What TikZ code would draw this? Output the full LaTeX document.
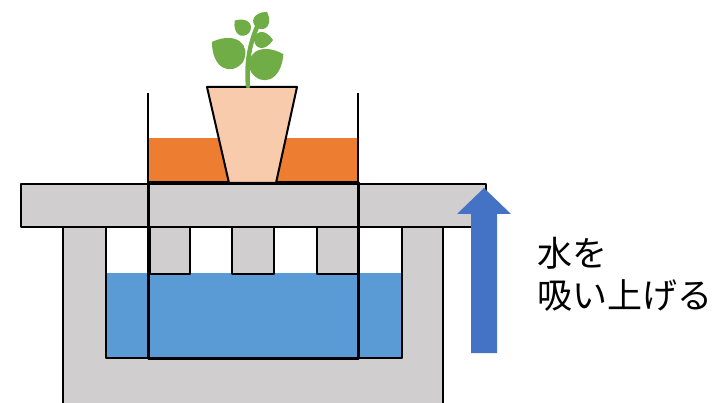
\documentclass[tikz,border=0pt]{standalone}
\usepackage{fontspec}
\newfontfamily\jafont{Noto Sans CJK JP}
\definecolor{slab}{HTML}{D0CECE}
\definecolor{water}{HTML}{5B9BD5}
\definecolor{soil}{HTML}{ED7D31}
\definecolor{pot}{HTML}{F8CBAD}
\definecolor{leafgreen}{HTML}{70AD47}
\definecolor{arrowblue}{HTML}{4472C4}
\newcommand\leaf[4]{\fill[leafgreen, shift={(#1,#2)}, rotate=#3, scale=#4]
	(0,0) .. controls (0.05,0.5) and (0.6,0.62) .. (1,0) .. controls (0.6,-0.62) and (0.05,-0.5) .. (0,0);}
\begin{document}
\begin{tikzpicture}[x=1pt, y=-1pt, line join=round,
	wall/.style={fill=slab, draw=black, line width=1.5pt},
	frame/.style={draw=black, line width=3pt}]
	\useasboundingbox (0,0) rectangle (717,403);
	% tank and water
	\fill[slab] (63,227)--(63,403)--(443,403)--(443,227)--cycle;
	\fill[white] (106,227) rectangle (402,358);
	\fill[water] (106,273) rectangle (402,358);
	\draw[line width=1.5pt]
	(63,227)--(63,403)
	(443,227)--(443,403)
	(106,227)--(106,358)--(402,358)--(402,227)
	;
	\foreach \a/\b in {150/190, 232/274, 317/358}
		\filldraw[wall] (\a,227)--(\a,274)--(\b,274)--(\b,227);
	\filldraw[wall] (21,184) rectangle (486,227);
	% planter
	\fill[soil] (148,138) rectangle (358,183);
	\draw[line width=2pt]
	(148,93)--(148,183)
	(358,93)--(358,183)
	;
	\draw[frame] (148,183) rectangle (358,358);
	\filldraw[fill=pot, line width=2pt] (207,87)--(297,87)--(276,183)--(229,183)--cycle;
	% plant
	\draw[leafgreen, line width=4.5pt, line cap=round] (248,86) .. controls (246,60) and (250,40) .. (262,16);
	\leaf{243}{62}{147}{37}
	\leaf{251}{72}{29}{37}
	\leaf{249}{33}{139}{19}
	\leaf{254}{40}{0}{19}
	\leaf{257}{28}{58}{19}
	% arrow
	\fill[arrowblue] (471,353)--(471,214)--(457,214)--(484,188)--(511,214)--(497,214)--(497,353)--cycle;
	\node[font=\jafont\fontsize{35}{42}\selectfont, align=left, anchor=north west, inner sep=0pt]
	(label) at (537,237) {水を\\吸い上げる};
\end{tikzpicture}
\end{document}
